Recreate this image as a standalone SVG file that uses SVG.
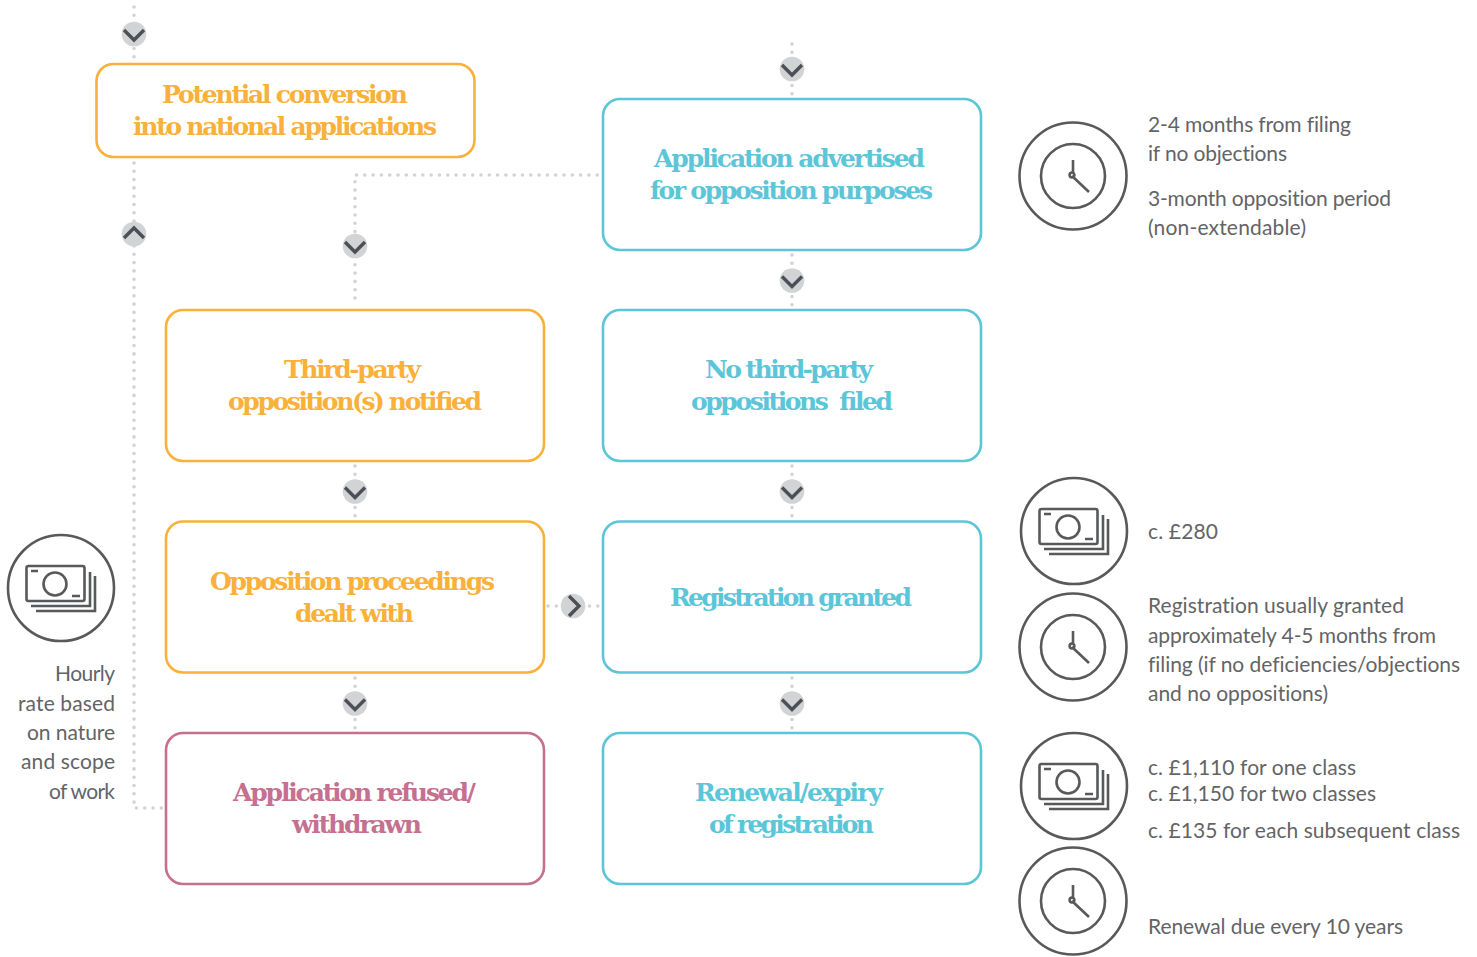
<svg xmlns="http://www.w3.org/2000/svg" width="1477" height="957" viewBox="0 0 1477 957">
<style>
.box{fill:#fff;stroke-width:2.6}
.o{stroke:#f9b13a}.b{stroke:#5cc6d8}.p{stroke:#c6708f}
.h{font-family:"DejaVu Serif","Liberation Serif",serif;font-weight:700;font-size:25px;text-anchor:middle}
.to{fill:#f9b13a}.tb{fill:#5cc6d8}.tp{fill:#c6708f}
.t{font-family:"Lato","Noto Sans",sans-serif;font-size:21px;fill:#636466;font-variant-ligatures:none}
.e{text-anchor:end}
.d{fill:none;stroke:#d1d3d4;stroke-width:3.6;stroke-linecap:round;stroke-dasharray:0 8.3}
.i{fill:none;stroke:#58595b;stroke-width:2.6}
.c{fill:none;stroke:#4d4f57;stroke-width:3.4}
</style>
<defs>
<g id="clock" class="i"><circle r="53.5"/><circle r="32"/><path d="M0-16V-2M-1 0L16 16"/><circle cx="-1" cy="-1" r="2.4"/></g>
<g id="money" class="i"><circle r="53"/><rect x="-34.500" y="-22" width="58" height="35" rx="2"/><circle cx="-6" cy="-4" r="11.500"/><path d="M-30-17h7M11 8h8M-30 18H29V-16M-25 23H34V-12"/></g>
<g id="dn"><circle r="12.300" fill="#d1d3d4"/><path class="c" d="M-10-4L0 6L10-4"/></g>
</defs>
<g id="connectors">
<path class="d" d="M134 7V60M134 163V808H162M355 298V175H597.500M792 44V95M792 255V305M792 466V516M792 678V728M355 466V516M355 678V728M548 606H600"/>
</g>
<g id="chevrons">
<use href="#dn" x="134" y="34"/>
<use href="#dn" x="792" y="69"/>
<use href="#dn" x="792" y="280.500"/>
<use href="#dn" x="792" y="491.500"/>
<use href="#dn" x="792" y="703.500"/>
<use href="#dn" x="355" y="246"/>
<use href="#dn" x="355" y="491.500"/>
<use href="#dn" x="355" y="703.500"/>
<use href="#dn" transform="translate(134 234) rotate(180)"/>
<use href="#dn" transform="translate(573 606) rotate(-90)"/>
</g>
<g id="n-conversion"><rect class="box o" x="96.500" y="64" width="378" height="93" rx="17"/><text class="h to" x="285" y="103" textLength="246">Potential conversion</text><text class="h to" x="285" y="135" textLength="304">into national applications</text></g>
<g id="n-advertised"><rect class="box b" x="603" y="99" width="378" height="151" rx="17"/><text class="h tb" x="789.500" y="167" textLength="271">Application advertised</text><text class="h tb" x="791.500" y="199" textLength="283">for opposition purposes</text></g>
<g id="n-notified"><rect class="box o" x="166" y="310" width="378" height="151" rx="17"/><text class="h to" x="352.500" y="378" textLength="137">Third-party</text><text class="h to" x="355" y="410" textLength="254">opposition(s) notified</text></g>
<g id="n-nofiled"><rect class="box b" x="603" y="310" width="378" height="151" rx="17"/><text class="h tb" x="789" y="378" textLength="168">No third-party</text><text class="h tb" x="792" y="410" textLength="202" style="white-space:pre">oppositions  filed</text></g>
<g id="n-proceedings"><rect class="box o" x="166" y="521.500" width="378" height="151" rx="17"/><text class="h to" x="352.500" y="590" textLength="285">Opposition proceedings</text><text class="h to" x="354.500" y="622" textLength="119">dealt with</text></g>
<g id="n-granted"><rect class="box b" x="603" y="521.500" width="378" height="151" rx="17"/><text class="h tb" x="791" y="606" textLength="242">Registration granted</text></g>
<g id="n-refused"><rect class="box p" x="166" y="733" width="378" height="151" rx="17"/><text class="h tp" x="354.500" y="801" textLength="243">Application refused/</text><text class="h tp" x="357" y="833" textLength="130">withdrawn</text></g>
<g id="n-renewal"><rect class="box b" x="603" y="733" width="378" height="151" rx="17"/><text class="h tb" x="789" y="801" textLength="188">Renewal/expiry</text><text class="h tb" x="791.500" y="833" textLength="165">of registration</text></g>
<g id="n-cost-left"><use href="#money" x="61" y="588"/>
<text class="t e" x="115" y="681" textLength="60">Hourly</text><text class="t e" x="115" y="711" textLength="97">rate based</text><text class="t e" x="115" y="740" textLength="88">on nature</text><text class="t e" x="115" y="769" textLength="94">and scope</text><text class="t e" x="115" y="799" textLength="66">of work</text></g>
<g id="n-time-1"><use href="#clock" x="1073" y="176"/>
<text class="t" x="1148" y="132" textLength="203">2-4 months from filing</text><text class="t" x="1148" y="161" textLength="139">if no objections</text><text class="t" x="1148" y="206" textLength="243">3-month opposition period</text><text class="t" x="1148" y="235" textLength="158">(non-extendable)</text></g>
<g id="n-cost-2"><use href="#money" x="1074" y="531"/><text class="t" x="1148" y="539" textLength="70">c. £280</text></g>
<g id="n-time-2"><use href="#clock" x="1073" y="647"/>
<text class="t" x="1148" y="613" textLength="256">Registration usually granted</text><text class="t" x="1148" y="643" textLength="288">approximately 4-5 months from</text><text class="t" x="1148" y="672" textLength="312">filing (if no deficiencies/objections</text><text class="t" x="1148" y="701" textLength="180">and no oppositions)</text></g>
<g id="n-cost-3"><use href="#money" x="1074" y="786"/>
<text class="t" x="1148" y="775" textLength="208">c. £1,110 for one class</text><text class="t" x="1148" y="801" textLength="228">c. £1,150 for two classes</text><text class="t" x="1148" y="838" textLength="312">c. £135 for each subsequent class</text></g>
<g id="n-time-3"><use href="#clock" x="1073" y="901"/><text class="t" x="1148" y="934" textLength="255">Renewal due every 10 years</text></g>
</svg>
